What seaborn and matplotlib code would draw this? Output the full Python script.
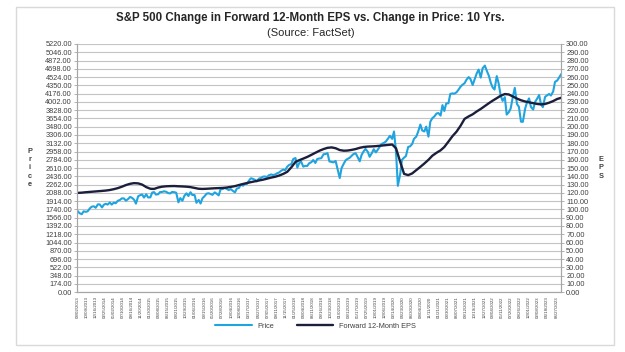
import pandas as pd
import matplotlib.pyplot as plt
import matplotlib.patches as patches
from matplotlib.ticker import FormatStrFormatter
import seaborn as sns

# S&P 500 price, twice a month (1st / 15th)
price = [
    1706, 1661, 1640, 1700, 1690, 1700, 1762, 1798, 1806, 1775,  # 2013 (from Aug)
    1848, 1845, 1782, 1840, 1859, 1842, 1885, 1842, 1883, 1870, 1924, 1937,
    1973, 1973, 1925, 1955, 2003, 1985, 1946, 1862, 2018, 2039, 2054, 1990,  # 2014
    2058, 1992, 1995, 2096, 2104, 2053, 2059, 2106, 2108, 2122, 2111, 2084,
    2077, 2108, 2103, 2092, 1890, 1978, 1923, 2023, 2079, 2023, 2102, 2043,  # 2015
    2044, 1880, 1940, 1864, 1978, 2015, 2072, 2081, 2065, 2047, 2099, 2072,
    2036, 2162, 2170, 2190, 2170, 2147, 2168, 2132, 2100, 2180, 2191, 2262,  # 2016
    2239, 2275, 2279, 2349, 2395, 2385, 2363, 2329, 2388, 2402, 2430, 2433,
    2423, 2459, 2476, 2464, 2476, 2500, 2519, 2553, 2579, 2565, 2642, 2675,  # 2017
    2695, 2800, 2822, 2620, 2713, 2750, 2640, 2656, 2655, 2711, 2734, 2780,
    2718, 2800, 2813, 2818, 2901, 2905, 2924, 2750, 2740, 2730, 2760, 2600,  # 2018
    2400, 2610, 2706, 2775, 2803, 2822, 2867, 2905, 2923, 2850, 2752, 2886,
    2964, 3014, 2953, 2847, 2926, 3007, 2940, 2995, 3066, 3120, 3141, 3168,  # 2019
    3231, 3289, 3225, 3380, 2954, 2237, 2470, 2783, 2830, 2863, 3055, 3066,
    3115, 3226, 3271, 3372, 3526, 3401, 3380, 3483, 3270, 3585, 3662, 3694,  # 2020
    3756, 3768, 3714, 3934, 3811, 3968, 3973, 4170, 4181, 4174, 4204, 4255,
    4320, 4360, 4395, 4468, 4524, 4480, 4357, 4471, 4605, 4682, 4513, 4709,  # 2021
    4766, 4662, 4546, 4401, 4306, 4262, 4545, 4392, 4132, 4023, 4101, 3735,
    3785, 3863, 4118, 4297, 3955, 3901, 3586, 3583, 3856, 3991, 4076, 3895,  # 2022
    3840, 3999, 4076, 4147, 3951, 3892, 4109, 4138, 4169, 4136, 4221, 4425,
    4450, 4510, 4589,                                                        # 2023
]

# Forward 12-month EPS, monthly
eps = [
    120.0, 120.3, 120.8, 121.2, 121.6,                                       # 2013
    122.0, 122.4, 122.8, 123.5, 124.5, 125.8, 127.5, 129.5, 131.0, 131.8, 131.5, 130.0,
    127.0, 125.0, 124.8, 126.5, 127.5, 128.0, 128.2, 128.3, 128.0, 127.8, 127.5, 127.0,
    126.0, 125.0, 124.8, 125.0, 125.3, 125.6, 125.8, 126.0, 126.5, 127.3, 128.2, 129.5,
    130.8, 132.0, 133.0, 134.0, 135.0, 136.0, 137.2, 138.5, 139.5, 141.0, 143.0, 145.5,
    151.0, 157.5, 159.5, 161.5, 163.5, 166.0, 168.5, 171.0, 173.0, 174.5, 175.0, 174.0,
    171.8, 171.0, 171.2, 172.0, 173.0, 174.5, 175.5, 176.0, 176.2, 176.5, 177.0, 177.5,
    178.0, 178.5, 174.0, 158.0, 143.0, 141.5, 143.5, 147.5, 151.5, 155.5, 160.0, 165.0,
    168.5, 171.5, 175.5, 182.0, 188.5, 194.0, 201.0, 209.5, 212.5, 215.0, 218.5, 221.5,
    225.0, 228.5, 231.5, 234.5, 237.5, 239.5, 239.0, 236.5, 234.0, 232.0, 230.5, 229.5,
    228.5, 227.5, 227.0, 227.5, 229.0, 231.0, 233.5, 235.0,
]

tick_labels = [
    "08/02/2013", "10/09/2013", "12/16/2013", "02/25/2014", "05/02/2014", "07/10/2014",
    "09/16/2014", "11/20/2014", "01/30/2015", "04/08/2015", "06/15/2015", "08/21/2015",
    "10/29/2015", "01/06/2016", "03/15/2016", "05/20/2016", "07/28/2016", "10/04/2016",
    "12/08/2016", "02/17/2017", "04/27/2017", "07/05/2017", "09/11/2017", "11/15/2017",
    "01/25/2018", "04/04/2018", "06/11/2018", "08/16/2018", "10/23/2018", "01/02/2019",
    "03/12/2019", "05/17/2019", "07/25/2019", "10/01/2019", "12/06/2019", "02/14/2020",
    "04/23/2020", "06/30/2020", "09/04/2020", "11/11/2020", "01/21/2021", "03/30/2021",
    "06/07/2021", "08/12/2021", "10/19/2021", "12/27/2021", "03/04/2022", "05/11/2022",
    "07/20/2022", "09/26/2022", "12/01/2022", "02/08/2023", "04/18/2023", "06/27/2023",
]

price_ticks = [i * 174 for i in range(31)]
eps_ticks = [i * 10 for i in range(31)]

price_dates = pd.date_range("2013-08-01", periods=len(price), freq="SMS")
eps_dates = pd.date_range("2013-08-01", periods=len(eps), freq="MS")

sns.set_style("white")
plt.rcParams["font.family"] = ["Liberation Sans", "DejaVu Sans"]

fig = plt.figure(figsize=(6.25, 3.52), dpi=100)
ax = fig.add_axes([0.123, 0.170, 0.775, 0.705])
ax2 = ax.twinx()

sns.lineplot(x=price_dates, y=price, ax=ax, color="#1fa4e0", linewidth=1.5)
sns.lineplot(x=eps_dates, y=eps, ax=ax2, color="#1b1f3b", linewidth=1.7)

grey = "#a6a6a6"
txt = "#404040"

ax.set_xlim(pd.Timestamp("2013-07-26"), price_dates[-1])
ax.set_ylim(0, 5220)
ax.set_yticks(price_ticks)
ax.yaxis.set_major_formatter(FormatStrFormatter("%.2f"))
ax2.set_ylim(0, 300)
ax2.set_yticks(eps_ticks)
ax2.yaxis.set_major_formatter(FormatStrFormatter("%.2f"))

ax.set_xticks(pd.to_datetime(tick_labels, format="%m/%d/%Y"))
ax.set_xticklabels(tick_labels, rotation=90, fontsize=3.2, color=txt)

ax.grid(axis="y", color="#c4c4c4", linewidth=0.8)
ax.set_axisbelow(True)

for a in (ax, ax2):
    a.set_xlabel("")
    a.set_ylabel("")
    a.spines["top"].set_visible(False)
    for s in ("left", "right", "bottom"):
        a.spines[s].set_color(grey)
        a.spines[s].set_linewidth(0.8)
    a.tick_params(axis="y", length=2, width=0.6, color=grey, labelsize=5.3,
                  labelcolor=txt, pad=1.5)
ax.tick_params(axis="x", length=2, width=0.6, color=grey, pad=1)

fig.text(0.497, 0.949, "S&P 500 Change in Forward 12-Month EPS vs. Change in Price: 10 Yrs.",
         ha="center", va="center", fontsize=8.3, fontweight="bold", color="#262626")
fig.text(0.497, 0.907, "(Source: FactSet)", ha="center", va="center",
         fontsize=8, color="#262626")

fig.text(0.048, 0.523, "P\nr\ni\nc\ne", ha="center", va="center", fontsize=5.3,
         fontweight="bold", color=txt, linespacing=1.25)
fig.text(0.962, 0.523, "E\nP\nS", ha="center", va="center", fontsize=5.3,
         fontweight="bold", color=txt, linespacing=1.25)

fig.legend([ax.lines[0], ax2.lines[0]], ["Price", "Forward 12-Month EPS"],
           loc="center", bbox_to_anchor=(0.505, 0.074), ncol=2, frameon=False,
           fontsize=5.3, handlelength=5, columnspacing=3, labelcolor=txt)

fig.add_artist(patches.Rectangle((0.025, 0.02), 0.958, 0.96, transform=fig.transFigure,
                                 fill=False, edgecolor="#d9d9d9", linewidth=1))

fig.savefig("out.png", dpi=100)
